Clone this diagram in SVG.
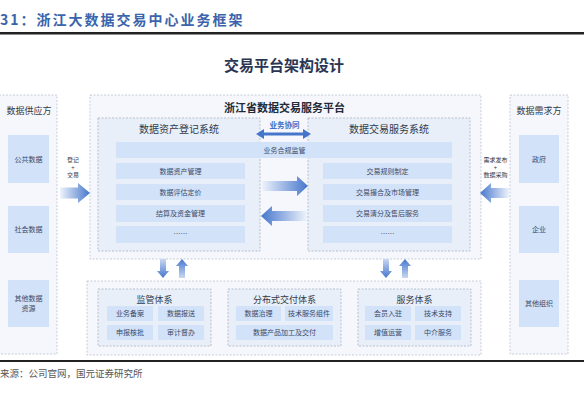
<svg xmlns="http://www.w3.org/2000/svg" width="584" height="414" viewBox="0 0 584 414">
<defs>
<style>
text{font-family:"Noto Sans CJK SC","Noto Sans",sans-serif;}
.panel{fill:#f5f7fc;stroke:#b9c1cd;stroke-width:0.8;stroke-dasharray:2 1.5;}
.sys{fill:#e9eff8;stroke:#aab3c0;stroke-width:0.8;stroke-dasharray:2 1.5;}
.cell{fill:#d2e2f9;}
.hdr{font-size:9px;fill:#333a48;text-anchor:middle;}
.shdr{font-size:10px;fill:#333a48;text-anchor:middle;}
.ct{font-size:7px;fill:#3c4a66;text-anchor:middle;}
.lab{font-size:6px;fill:#333a48;text-anchor:middle;}
</style>
<linearGradient id="gR" x1="0" y1="0" x2="1" y2="0"><stop offset="0" stop-color="#eef3fb"/><stop offset="1" stop-color="#4676cc"/></linearGradient>
<linearGradient id="gL" x1="1" y1="0" x2="0" y2="0"><stop offset="0" stop-color="#eef3fb"/><stop offset="1" stop-color="#4676cc"/></linearGradient>
<linearGradient id="gD" x1="0" y1="0" x2="0" y2="1"><stop offset="0" stop-color="#c9d8f2"/><stop offset="1" stop-color="#4676cc"/></linearGradient>
<linearGradient id="gU" x1="0" y1="1" x2="0" y2="0"><stop offset="0" stop-color="#c9d8f2"/><stop offset="1" stop-color="#4676cc"/></linearGradient>
</defs>
<rect width="584" height="414" fill="#ffffff"/>

<text x="0" y="25" font-size="14" font-weight="bold" fill="#3a64ab" letter-spacing="2">31：浙江大数据交易中心业务框架</text>
<rect x="0" y="32" width="584" height="2.5" fill="#222"/>
<text x="284" y="71" font-size="15" font-weight="bold" fill="#2a3554" text-anchor="middle">交易平台架构设计</text>

<g id="supplier">
<rect class="panel" x="-1" y="95" width="58" height="259"/>
<text class="hdr" x="29" y="114">数据供应方</text>
<rect class="cell" x="8" y="135" width="41" height="48"/>
<text class="ct" x="28.5" y="162">公共数据</text>
<rect class="cell" x="8" y="206" width="41" height="47"/>
<text class="ct" x="28.5" y="232">社会数据</text>
<rect class="cell" x="8" y="280" width="41" height="47"/>
<text class="ct" x="28.5" y="301">其他数据</text>
<text class="ct" x="28.5" y="311">资源</text>
</g>

<g id="demander">
<rect class="panel" x="510" y="95" width="58" height="259"/>
<text class="hdr" x="539" y="114">数据需求方</text>
<rect class="cell" x="519" y="135" width="40" height="48"/>
<text class="ct" x="539" y="162">政府</text>
<rect class="cell" x="519" y="206" width="40" height="47"/>
<text class="ct" x="539" y="232">企业</text>
<rect class="cell" x="519" y="280" width="40" height="47"/>
<text class="ct" x="539" y="306">其他组织</text>
</g>

<g id="platform">
<rect class="panel" x="90" y="95" width="391" height="164"/>
<text x="284.5" y="112" font-size="11" font-weight="bold" fill="#222a38" text-anchor="middle">浙江省数据交易服务平台</text>
</g>

<g id="register-system">
<rect class="sys" x="98" y="118" width="162" height="133"/>
<text class="shdr" x="179" y="133">数据资产登记系统</text>
</g>
<g id="trade-system">
<rect class="sys" x="308" y="118" width="162" height="133"/>
<text class="shdr" x="389" y="133">数据交易服务系统</text>
</g>

<g id="compliance">
<rect class="cell" x="116" y="142" width="336" height="16"/>
<text class="ct" x="284.5" y="152.5">业务合规监管</text>
</g>

<g id="register-items">
<rect class="cell" x="116" y="163" width="129" height="16"/>
<text class="ct" x="180.5" y="173.5">数据资产管理</text>
<rect class="cell" x="116" y="184" width="129" height="16"/>
<text class="ct" x="180.5" y="194.5">数据评估定价</text>
<rect class="cell" x="116" y="205" width="129" height="17"/>
<text class="ct" x="180.5" y="216">结算及资金管理</text>
<rect class="cell" x="116" y="226" width="129" height="17"/>
<text class="ct" x="180.5" y="236">……</text>
</g>
<g id="trade-items">
<rect class="cell" x="323" y="163" width="129" height="16"/>
<text class="ct" x="387.5" y="173.5">交易规则制定</text>
<rect class="cell" x="323" y="184" width="129" height="16"/>
<text class="ct" x="387.5" y="194.5">交易撮合及市场管理</text>
<rect class="cell" x="323" y="205" width="129" height="17"/>
<text class="ct" x="387.5" y="216">交易清分及售后服务</text>
<rect class="cell" x="323" y="226" width="129" height="17"/>
<text class="ct" x="387.5" y="236">……</text>
</g>

<g id="support">
<rect class="panel" x="87" y="281" width="394" height="74"/>
</g>
<g id="regulation">
<rect class="sys" x="98" y="289" width="113" height="57"/>
<text class="hdr" x="154.5" y="303" font-size="9.5">监管体系</text>
<rect class="cell" x="107" y="306" width="46" height="15"/>
<text class="ct" x="130" y="316">业务备案</text>
<rect class="cell" x="158" y="306" width="46" height="15"/>
<text class="ct" x="181" y="316">数据报送</text>
<rect class="cell" x="107" y="325" width="46" height="15"/>
<text class="ct" x="130" y="335">申报核批</text>
<rect class="cell" x="158" y="325" width="46" height="15"/>
<text class="ct" x="181" y="335">审计督办</text>
</g>
<g id="delivery">
<rect class="sys" x="228" y="289" width="113" height="57"/>
<text class="hdr" x="284.5" y="303" font-size="9.5">分布式交付体系</text>
<rect class="cell" x="236" y="306" width="45" height="15"/>
<text class="ct" x="258.5" y="316">数据治理</text>
<rect class="cell" x="285" y="306" width="48" height="15"/>
<text class="ct" x="309" y="316">技术服务组件</text>
<rect class="cell" x="236" y="325" width="97" height="15"/>
<text class="ct" x="284.5" y="335">数据产品加工及交付</text>
</g>
<g id="service">
<rect class="sys" x="358" y="289" width="113" height="57"/>
<text class="hdr" x="414.5" y="303" font-size="9.5">服务体系</text>
<rect class="cell" x="365" y="306" width="46" height="15"/>
<text class="ct" x="388" y="316">会员入驻</text>
<rect class="cell" x="415" y="306" width="46" height="15"/>
<text class="ct" x="438" y="316">技术支持</text>
<rect class="cell" x="365" y="325" width="46" height="15"/>
<text class="ct" x="388" y="335">增值运营</text>
<rect class="cell" x="415" y="325" width="46" height="15"/>
<text class="ct" x="438" y="335">中介服务</text>
</g>

<g id="connectors">
<polygon points="60,187.5 78,187.5 78,183 90,193 78,203 78,198.5 60,198.5" fill="url(#gR)"/>
<text class="lab" x="73" y="162">登记</text>
<text class="lab" x="73" y="169.5" font-size="5">+</text>
<text class="lab" x="73" y="177">交易</text>
<polygon points="509,188 491,188 491,183 480,193 491,203 491,198 509,198" fill="url(#gL)"/>
<text class="lab" x="495.5" y="162">需求发布</text>
<text class="lab" x="495.5" y="169.5" font-size="5">+</text>
<text class="lab" x="495.5" y="177">数据采购</text>
<polygon points="262,181 297,181 297,176 308,186 297,196 297,191 262,191" fill="url(#gR)"/>
<polygon points="307,211 272,211 272,206 261,216 272,226 272,221 307,221" fill="url(#gL)"/>
<text x="284.5" y="127.5" font-size="7.5" font-weight="bold" fill="#3f6fc4" text-anchor="middle">业务协同</text>
<polygon points="256,134 264,129 264,132.5 303,132.5 303,129 311,134 303,139 303,135.5 264,135.5 264,139" fill="#4676cc"/>
<polygon points="160,259 166,259 166,271 169,271 163,278 157,271 160,271" fill="url(#gD)"/>
<polygon points="179,278 185,278 185,266 188,266 182,259 176,266 179,266" fill="url(#gU)"/>
<polygon points="383,259 389,259 389,271 392,271 386,278 380,271 383,271" fill="url(#gD)"/>
<polygon points="402,278 408,278 408,266 411,266 405,259 399,266 402,266" fill="url(#gU)"/>
</g>

<rect x="0" y="360" width="584" height="2" fill="#222"/>
<text x="0" y="377" font-size="9.5" fill="#555" font-family="'Noto Sans CJK SC',serif">来源：公司官网，国元证券研究所</text>
</svg>
